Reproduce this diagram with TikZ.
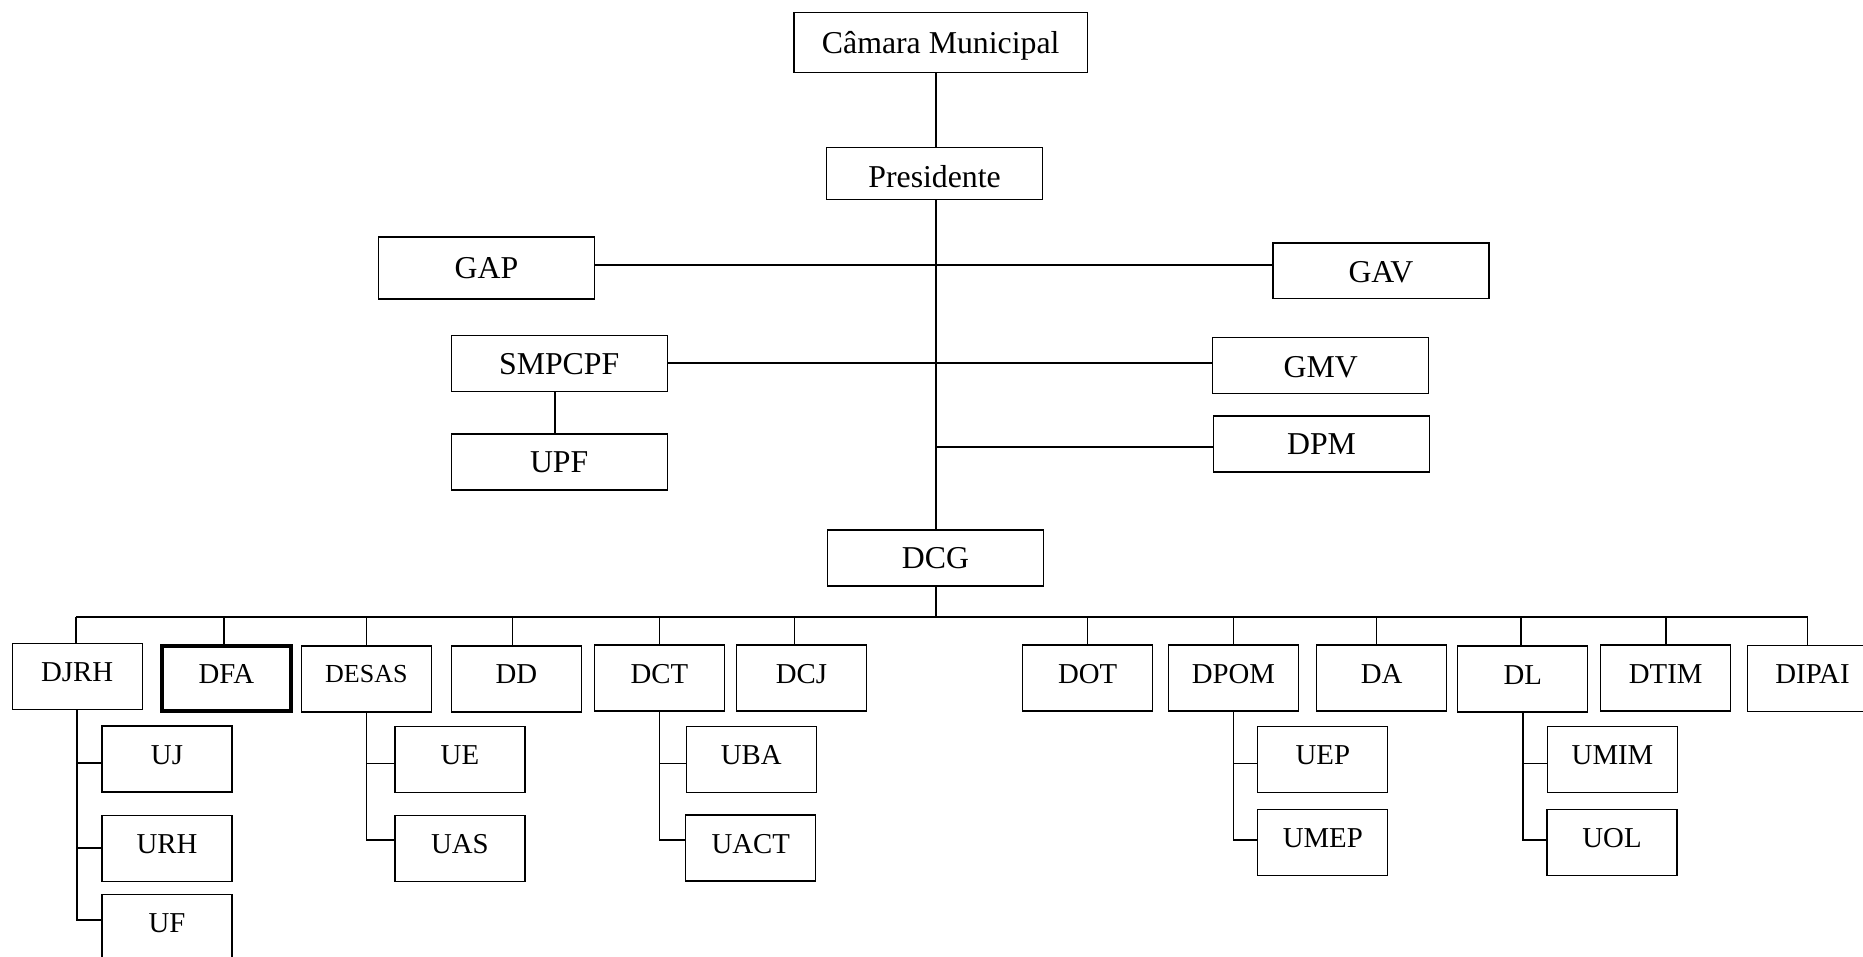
\documentclass[tikz,border=0pt]{standalone}
\usepackage{fontspec}
\setmainfont{Liberation Serif}
\begin{document}
\begin{tikzpicture}[x=0.5pt,y=-0.5pt,
  box/.style={draw, line width=0.6pt, rectangle, inner sep=0pt, align=center},
  topbox/.style={box, font=\fontsize{15.9}{19}\selectfont, text height=10.5pt, text depth=0pt, minimum width=108pt, minimum height=28pt},
  dept/.style={box, font=\fontsize{14.4}{17}\selectfont, text height=9.5pt, text depth=4.5pt, minimum width=65pt, minimum height=33pt},
  link/.style={line width=0.8pt}]
\useasboundingbox (0,0) rectangle (1863,957);

% upper levels
\node[topbox, minimum width=146.75pt, minimum height=30pt] (cam) at (940.7,42.7) {Câmara Municipal};
\node[topbox, minimum height=25.8pt, text height=14.4pt] (pres) at (934.6,173.5) {Presidente};
\node[topbox, minimum height=31pt] (gap) at (486.5,268) {GAP};
\node[topbox, minimum height=27.75pt, text height=12pt] (gav) at (1380.9,270.8) {GAV};
\node[topbox] (smp) at (559.2,363.5) {SMPCPF};
\node[topbox, text height=12pt] (gmv) at (1320.8,365.2) {GMV};
\node[topbox] (upf) at (559.2,461.9) {UPF};
\node[topbox] (dpm) at (1321.5,443.9) {DPM};
\node[topbox] (dcg) at (935.4,557.9) {DCG};

% departments
\node[dept] (djrh) at (77.1,676.2) {DJRH};
\node[dept, line width=2pt, minimum width=64.25pt, minimum height=32.5pt] (dfa) at (226.4,678.8) {DFA};
\node[dept, font=\fontsize{13}{16}\selectfont, text depth=5.5pt] (desas) at (366.4,678.9) {DESAS};
\node[dept] (dd) at (516.3,678.9) {DD};
\node[dept] (dct) at (659.4,678) {DCT};
\node[dept] (dcj) at (801.4,678) {DCJ};
\node[dept] (dot) at (1087.6,678) {DOT};
\node[dept] (dpom) at (1233.4,678) {DPOM};
\node[dept] (da) at (1381.7,678) {DA};
\node[dept] (dl) at (1522.7,679) {DL};
\node[dept] (dtim) at (1665.7,678) {DTIM};
\node[dept] (dipai) at (1812.5,678.7) {DIPAI};

% units
\node[dept] (uj) at (167,759) {UJ};
\node[dept] (urh) at (167,848.2) {URH};
\node[dept] (uf) at (167,927.7) {UF};
\node[dept] (ue) at (459.9,759.3) {UE};
\node[dept] (uas) at (459.9,848.2) {UAS};
\node[dept] (uba) at (751.2,759.5) {UBA};
\node[dept] (uact) at (750.7,848) {UACT};
\node[dept] (uep) at (1322.8,759.5) {UEP};
\node[dept] (umep) at (1322.8,842.7) {UMEP};
\node[dept] (umim) at (1612.5,759.5) {UMIM};
\node[dept] (uol) at (1612,842.7) {UOL};

% junction coordinates
\coordinate (bus) at (936,616.7);
\coordinate (h1) at (936,265);
\coordinate (h2) at (936,362.7);
\coordinate (h3) at (936,447);

% connectors
\draw[link] (h1 |- cam.south) -- (h1 |- pres.north);
\draw[link] (h1 |- pres.south) -- (h1 |- dcg.north);
\draw[link] (gap.east |- h1) -- (gav.west |- h1);
\draw[link] (smp.east |- h2) -- (gmv.west |- h2);
\draw[link] (h3) -- (dpm.west |- h3);
\draw[link] ([xshift=-2pt]smp.south) -- ([xshift=-2pt]upf.north);
\draw[link] (bus |- dcg.south) -- (bus);
\draw[link] ([xshift=-0.6pt]djrh.north |- bus) -- ([xshift=-2.45pt]dipai.north |- bus);

\foreach \d/\s in {djrh/-0.6pt, dfa/-1.1pt, desas/0pt, dd/-1.9pt, dct/0pt, dcj/-3.55pt, dot/0pt, dpom/0pt, da/-2.6pt, dl/-1pt, dtim/0pt, dipai/-2.45pt}
  \draw[link] ([xshift=\s]\d.north) -- ([xshift=\s]\d.north |- bus);

\draw[link] (djrh.south) |- ([yshift=-2pt]uj.west);
\draw[link] (djrh.south) |- (urh.west);
\draw[link] (djrh.south) |- ([yshift=3.85pt]uf.west);
\draw[link] (desas.south) |- ([yshift=-2pt]ue.west);
\draw[link] (desas.south) |- ([yshift=4pt]uas.west);
\draw[link] (dct.south) |- ([yshift=-2pt]uba.west);
\draw[link] (dct.south) |- ([yshift=4pt]uact.west);
\draw[link] (dpom.south) |- ([yshift=-2pt]uep.west);
\draw[link] (dpom.south) |- ([yshift=1.35pt]umep.west);
\draw[link] (dl.south) |- ([yshift=-2pt]umim.west);
\draw[link] (dl.south) |- ([yshift=1.35pt]uol.west);
\end{tikzpicture}
\end{document}
